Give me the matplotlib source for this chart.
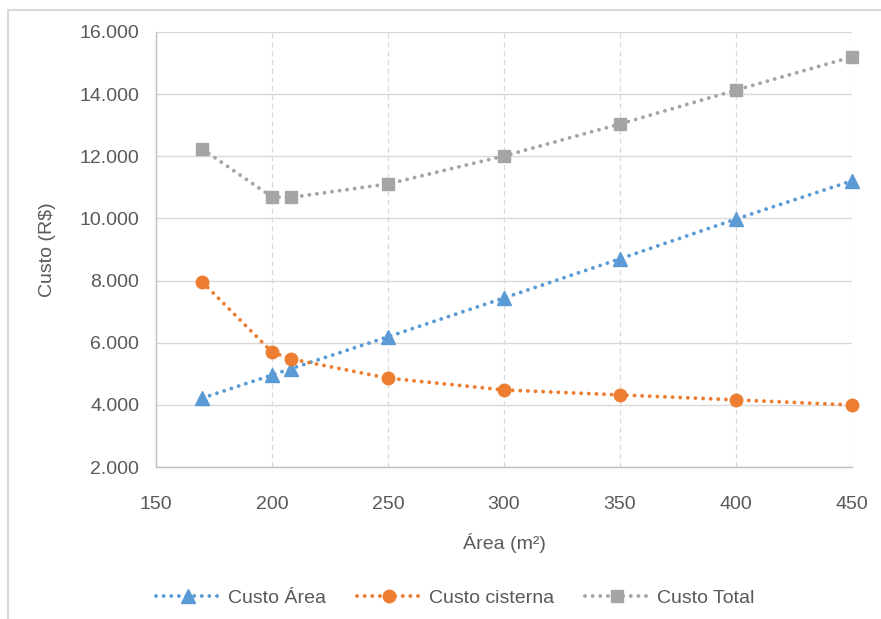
import matplotlib
matplotlib.use("Agg")
import matplotlib.pyplot as plt
from matplotlib.ticker import FuncFormatter, MultipleLocator
from matplotlib.patches import Rectangle

plt.rcParams['font.family'] = ['Liberation Sans', 'DejaVu Sans']

area = [170, 200, 208, 250, 300, 350, 400, 450]
custo_area = [4220, 4960, 5160, 6190, 7440, 8700, 9980, 11210]
custo_cisterna = [7950, 5700, 5480, 4860, 4480, 4320, 4160, 3995]
custo_total = [12230, 10690, 10675, 11110, 12010, 13040, 14130, 15200]

series = [
    ("Custo Área", custo_area, "#5B9BD5", "^", 10),
    ("Custo cisterna", custo_cisterna, "#ED7D31", "o", 9),
    ("Custo Total", custo_total, "#A5A5A5", "s", 8),
]

fig = plt.figure(figsize=(8.81, 6.19), dpi=100)
ax = fig.add_axes([156/881, 1-467/619, 696/881, 435/619])

# outer chart border
fig.patches.append(Rectangle((8/881, -0.05), 1.1, 1-10/619+0.05, transform=fig.transFigure,
                             fill=False, edgecolor="#D9D9D9", linewidth=1.5, zorder=0))

for name, vals, col, mk, ms in series:
    ax.plot(area, vals, color=col, linewidth=2.8, linestyle=(0, (0.01, 1.95)),
            dash_capstyle='round', marker=mk, markersize=ms, markeredgecolor=col,
            markerfacecolor=col, label=name, clip_on=False, zorder=3)

ax.set_xlim(150, 450)
ax.set_ylim(2000, 16000)
ax.xaxis.set_major_locator(MultipleLocator(50))
ax.yaxis.set_major_locator(MultipleLocator(2000))
ax.yaxis.set_major_formatter(FuncFormatter(lambda v, p: f"{int(v):,}".replace(",", ".")))

ax.grid(axis='y', color="#D9D9D9", linewidth=1.0, linestyle='-')
ax.grid(axis='x', color="#D9D9D9", linewidth=0.9, linestyle=(0, (4, 3)))
ax.set_axisbelow(True)

for s in ['top', 'right']:
    ax.spines[s].set_visible(False)
for s in ['left', 'bottom']:
    ax.spines[s].set_color("#BFBFBF")
    ax.spines[s].set_linewidth(1.0)

ax.tick_params(length=0, labelsize=14, labelcolor="#595959")
ax.tick_params(axis='y', pad=12)
ax.tick_params(axis='x', pad=21)

ax.set_xlabel("Área (m²)", fontsize=14, color="#595959", labelpad=14)
ax.set_ylabel("Custo (R$)", fontsize=14, color="#595959", labelpad=17)

leg = fig.legend(loc='center', bbox_to_anchor=(455/881, 1-598/619), ncol=3, frameon=False,
                 fontsize=14, handlelength=3.3, columnspacing=1.6, handletextpad=0.4)
for t in leg.get_texts():
    t.set_color("#595959")

fig.savefig("out.png", dpi=100)
